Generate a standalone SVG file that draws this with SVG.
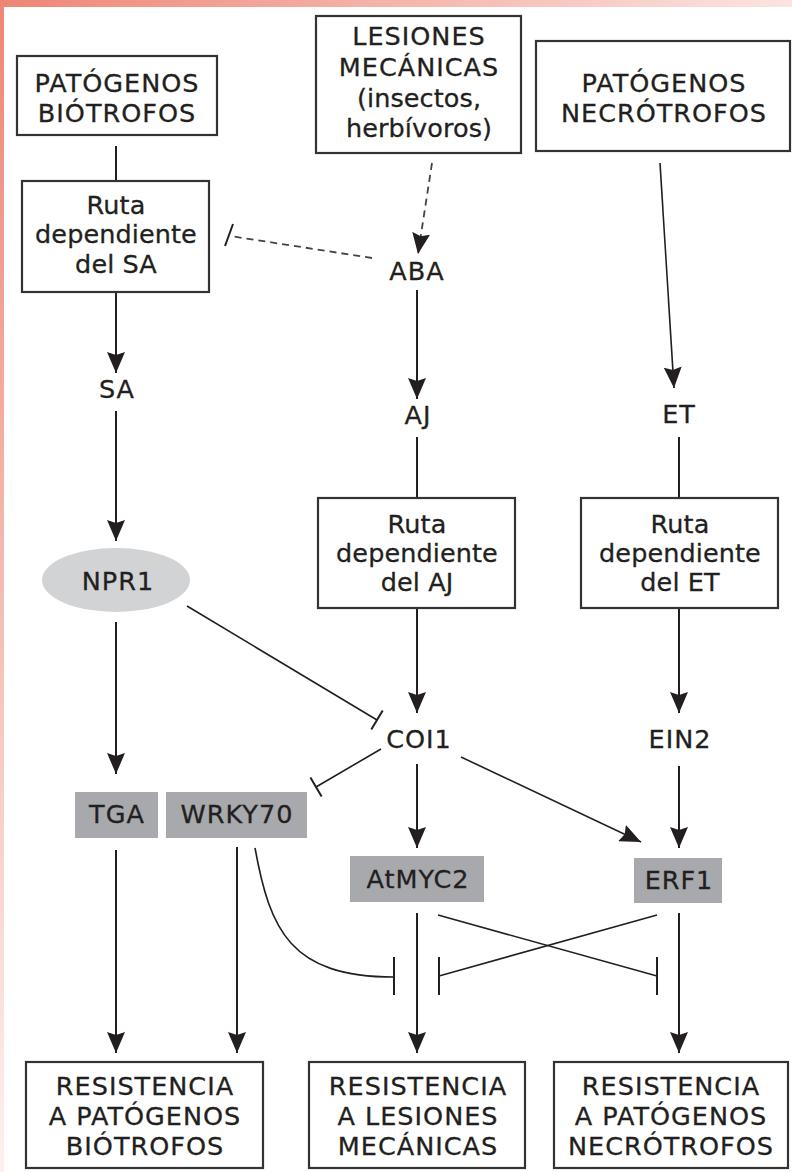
<svg xmlns="http://www.w3.org/2000/svg" width="792" height="1172" viewBox="0 0 792 1172">
<style>
text{font-family:"DejaVu Sans","Liberation Sans",sans-serif;font-size:25.5px;fill:#231f20;stroke:#231f20;stroke-width:0.3;text-anchor:middle}
.c{letter-spacing:1px}
.l{letter-spacing:0.1px}
.box{fill:#fff;stroke:#333;stroke-width:2.2}
.gbox{fill:#a7a9ac;stroke:none}
.ell{fill:#d2d3d5}
.ln{stroke:#231f20;stroke-width:2;fill:none}
.thin{stroke:#231f20;stroke-width:1.6;fill:none}
.dash{stroke:#444;stroke-width:1.8;fill:none;stroke-dasharray:7 5}
.bar{stroke:#231f20;stroke-width:2;fill:none}
</style>
<defs>
<linearGradient id="gTop" x1="0" y1="0" x2="1" y2="0">
<stop offset="0" stop-color="#ee8676"/>
<stop offset="1" stop-color="#fbe4e0"/>
</linearGradient>
<linearGradient id="gLeft" x1="0" y1="0" x2="0" y2="1">
<stop offset="0" stop-color="#ee8676"/>
<stop offset="1" stop-color="#fdf1ef"/>
</linearGradient>
<marker id="arr" markerUnits="userSpaceOnUse" markerWidth="22" markerHeight="18" refX="21" refY="9" orient="auto" viewBox="0 0 22 18">
<path d="M0,0 L21,9 L0,18 L3,9 Z" fill="#231f20"/>
</marker>
</defs>
<rect x="0" y="0" width="792" height="7" fill="url(#gTop)"/>
<rect x="0" y="0" width="4" height="1172" fill="url(#gLeft)"/>

<g id="connectors">
<line class="ln" x1="116" y1="146" x2="116" y2="181"/>
<line class="ln" x1="116" y1="292" x2="116" y2="373" marker-end="url(#arr)"/>
<line class="ln" x1="116" y1="411" x2="116" y2="541" marker-end="url(#arr)"/>
<line class="ln" x1="116" y1="622" x2="116" y2="774" marker-end="url(#arr)"/>
<line class="ln" x1="116" y1="850" x2="116" y2="1053" marker-end="url(#arr)"/>
<line class="ln" x1="237" y1="847" x2="237" y2="1053" marker-end="url(#arr)"/>
<line class="dash" x1="432" y1="163" x2="418" y2="254" marker-end="url(#arr)"/>
<line class="dash" x1="372" y1="258" x2="230" y2="236"/>
<line class="bar" x1="233" y1="224" x2="225" y2="246"/>
<line class="thin" x1="660" y1="163" x2="674" y2="388" marker-end="url(#arr)"/>
<line class="ln" x1="417" y1="290" x2="417" y2="399" marker-end="url(#arr)"/>
<line class="ln" x1="417" y1="437" x2="417" y2="498"/>
<line class="ln" x1="679" y1="437" x2="679" y2="498"/>
<line class="ln" x1="417" y1="608" x2="417" y2="713" marker-end="url(#arr)"/>
<line class="ln" x1="679" y1="608" x2="679" y2="713" marker-end="url(#arr)"/>
<line class="thin" x1="187" y1="606" x2="377" y2="720"/>
<line class="bar" x1="382.7" y1="710.6" x2="371.3" y2="729.4"/>
<line class="thin" x1="381" y1="749" x2="316" y2="787"/>
<line class="bar" x1="310.4" y1="777.5" x2="321.6" y2="796.5"/>
<line class="ln" x1="417" y1="764" x2="417" y2="848" marker-end="url(#arr)"/>
<line class="thin" x1="461" y1="757" x2="641" y2="842" marker-end="url(#arr)"/>
<line class="ln" x1="679" y1="766" x2="679" y2="848" marker-end="url(#arr)"/>
<line class="ln" x1="417" y1="913" x2="417" y2="1053" marker-end="url(#arr)"/>
<line class="ln" x1="679" y1="913" x2="679" y2="1053" marker-end="url(#arr)"/>
<path class="thin" d="M255,848 C270,930 290,977 394,977"/>
<line class="bar" x1="394" y1="957" x2="394" y2="995"/>
<line class="thin" x1="657" y1="915" x2="439" y2="976"/>
<line class="bar" x1="439" y1="957" x2="439" y2="995"/>
<line class="thin" x1="438" y1="915" x2="657" y2="976"/>
<line class="bar" x1="657" y1="957" x2="657" y2="995"/>
</g>

<g id="n-biotrofos">
<rect class="box" x="17" y="56" width="200" height="79"/>
<text class="c" x="117" y="92">PATÓGENOS</text>
<text class="c" x="117" y="122">BIÓTROFOS</text>
</g>
<g id="n-lesiones">
<rect class="box" x="316" y="16" width="205" height="137"/>
<text class="c" x="419" y="45">LESIONES</text>
<text class="c" x="419" y="76">MECÁNICAS</text>
<text class="l" x="419" y="107">(insectos,</text>
<text class="l" x="419" y="137">herbívoros)</text>
</g>
<g id="n-necrotrofos">
<rect class="box" x="536" y="41" width="254" height="110"/>
<text class="c" x="664" y="92">PATÓGENOS</text>
<text class="c" x="664" y="122">NECRÓTROFOS</text>
</g>
<g id="n-ruta-sa">
<rect class="box" x="22" y="181" width="187" height="111"/>
<text class="l" x="116" y="214">Ruta</text>
<text class="l" x="116" y="243">dependiente</text>
<text class="l" x="116" y="273">del SA</text>
</g>
<g id="n-aba"><text class="c" x="417" y="280">ABA</text></g>
<g id="n-sa"><text class="c" x="117" y="398">SA</text></g>
<g id="n-aj"><text class="c" x="418" y="424">AJ</text></g>
<g id="n-et"><text class="c" x="679" y="423">ET</text></g>
<g id="n-ruta-aj">
<rect class="box" x="318" y="498" width="197" height="110"/>
<text class="l" x="417" y="533">Ruta</text>
<text class="l" x="417" y="562">dependiente</text>
<text class="l" x="417" y="591">del AJ</text>
</g>
<g id="n-ruta-et">
<rect class="box" x="581" y="498" width="197" height="110"/>
<text class="l" x="680" y="533">Ruta</text>
<text class="l" x="680" y="562">dependiente</text>
<text class="l" x="680" y="591">del ET</text>
</g>
<g id="n-npr1">
<ellipse class="ell" cx="116" cy="580" rx="74" ry="32"/>
<text class="c" x="118" y="590">NPR1</text>
</g>
<g id="n-coi1"><text class="c" x="419" y="748">COI1</text></g>
<g id="n-ein2"><text class="c" x="680" y="748">EIN2</text></g>
<g id="n-tga">
<rect class="gbox" x="75" y="792" width="83" height="46"/>
<text class="c" x="117" y="823">TGA</text>
</g>
<g id="n-wrky70">
<rect class="gbox" x="166" y="792" width="141" height="46"/>
<text class="c" x="237" y="823">WRKY70</text>
</g>
<g id="n-atmyc2">
<rect class="gbox" x="350" y="856" width="134" height="46"/>
<text class="c" x="418" y="888">AtMYC2</text>
</g>
<g id="n-erf1">
<rect class="gbox" x="634" y="858" width="88" height="45"/>
<text class="c" x="679" y="889">ERF1</text>
</g>
<g id="n-res-bio">
<rect class="box" x="26" y="1062" width="237" height="106"/>
<text class="c" x="145" y="1095">RESISTENCIA</text>
<text class="c" x="145" y="1125">A PATÓGENOS</text>
<text class="c" x="145" y="1155">BIÓTROFOS</text>
</g>
<g id="n-res-mec">
<rect class="box" x="309" y="1062" width="216" height="106"/>
<text class="c" x="418" y="1095">RESISTENCIA</text>
<text class="c" x="418" y="1125">A LESIONES</text>
<text class="c" x="418" y="1155">MECÁNICAS</text>
</g>
<g id="n-res-nec">
<rect class="box" x="554" y="1062" width="234" height="106"/>
<text class="c" x="671" y="1095">RESISTENCIA</text>
<text class="c" x="671" y="1125">A PATÓGENOS</text>
<text class="c" x="671" y="1155">NECRÓTROFOS</text>
</g>
</svg>
